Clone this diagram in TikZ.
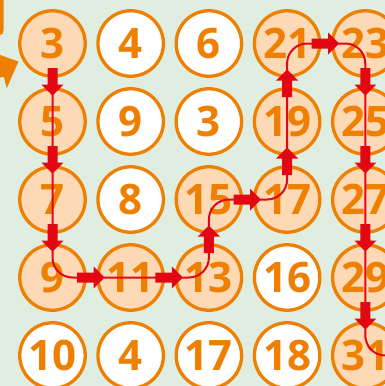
\documentclass[tikz,border=0pt]{standalone}
\usepackage{fontspec}
\newfontfamily\numfont{Open Sans}
\usetikzlibrary{calc}
\definecolor{bgmint}{HTML}{E0EEE2}
\definecolor{ringorange}{HTML}{EE7F00}
\definecolor{peach}{HTML}{FDD9B6}
\definecolor{pathred}{HTML}{E30613}
\tikzset{
  num/.style={circle,draw=ringorange,line width=3.3pt,minimum size=65.5pt,inner sep=0pt,
    text=ringorange,font=\numfont\bfseries\fontsize{42}{42}\selectfont},
  route/.style={pathred,line width=2pt,rounded corners=20pt},
  steparrow/.pic={\fill[pathred] (-14.5,-5) -- (2,-5) -- (2,-11) -- (13,0) -- (2,11) -- (2,5) -- (-14.5,5) -- cycle;}
}
\begin{document}
\begin{tikzpicture}[x=1pt,y=-1pt]
\fill[bgmint] (0,0) rectangle (385,386);
\useasboundingbox (0,0) rectangle (385,386);
\clip (0,0) rectangle (385,386);
% orange pointer, cut off at the top left
\fill[ringorange] (0,0) -- (3.5,0) -- (3.5,30) .. controls (3.5,33) and (2.5,35) .. (0,35) -- cycle;
\fill[ringorange] (0,55) -- (18.5,61.5) -- (6.7,88.3) -- (4,77) -- (0,77.5) -- cycle;
% the number grid, row by row
\foreach \row/\list in {1/{3/peach,4/white,6/white,21/peach,23/peach},
    2/{5/peach,9/white,3/white,19/peach,25/peach},
    3/{7/peach,8/white,15/peach,17/peach,27/peach},
    4/{9/peach,11/peach,13/peach,16/white,29/peach},
    5/{10/white,4/white,17/white,18/white,31/peach}}
  \foreach \val/\shade [count=\col] in \list
    \node[num,fill=\shade] (n-\row-\col) at ({52.5+78.2*(\col-1)},{43.5+78*(\row-1)}) {\val};

% red route through the odd numbers
\coordinate (start) at ($(n-1-1)+(0,24.5)$);
\coordinate (exit) at ($(n-5-5)+(40,0)$);
\draw[route] (start) -- (n-4-1.center) -- (n-4-3.center) -- (n-3-3.center) -- (n-3-4.center)
  -- (n-1-4.center) -- (n-1-5.center) -- (n-5-5.center) -- (exit);
\foreach \a/\b/\ang in {n-1-1/n-2-1/-90, n-2-1/n-3-1/-90, n-3-1/n-4-1/-90, n-4-1/n-4-2/0,
    n-4-2/n-4-3/0, n-4-3/n-3-3/90, n-3-3/n-3-4/0, n-3-4/n-2-4/90, n-2-4/n-1-4/90,
    n-1-4/n-1-5/0, n-1-5/n-2-5/-90, n-2-5/n-3-5/-90, n-3-5/n-4-5/-90, n-4-5/n-5-5/-90}
  \pic[rotate=\ang] at ($(\a)!0.5!(\b)$) {steparrow};
\end{tikzpicture}
\end{document}
